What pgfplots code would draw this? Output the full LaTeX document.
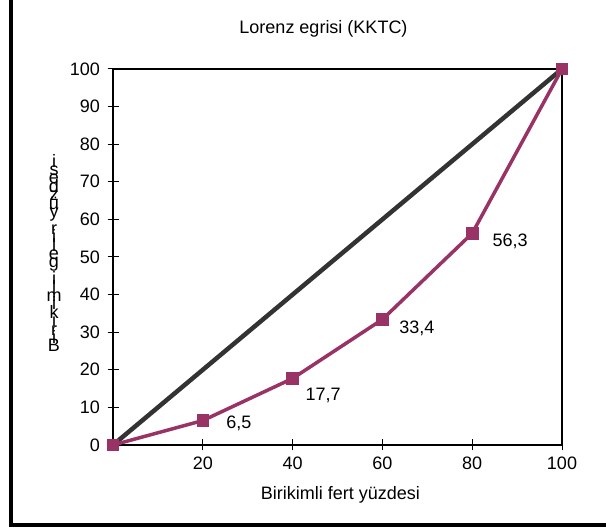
\documentclass[border=0pt]{standalone}
\usepackage{pgfplots}
\pgfplotsset{compat=1.18}
\usepackage{fontspec}
\setmainfont{Liberation Sans}

\definecolor{plum}{RGB}{153,51,102}
\definecolor{darkline}{RGB}{51,51,51}

\newcommand{\chartfont}{\fontsize{18bp}{21bp}\selectfont}

\begin{document}
\begin{tikzpicture}
  \useasboundingbox (0,0) rectangle (606bp,528bp);

  % frame of the chart area (cropped on top and right)
  \draw[line width=4.5bp] (11bp,528bp) -- (11bp,3bp) -- (606bp,3bp);

  \begin{axis}[
    at={(113bp,83bp)}, anchor=south west,
    scale only axis,
    width=449bp, height=376bp,
    xmin=0, xmax=100, ymin=0, ymax=100,
    xtick={20,40,60,80,100},
    ytick={0,10,...,100},
    xtick pos=bottom, ytick pos=left,
    tick align=center,
    major tick length=11bp,
    tick style={black, line width=1bp},
    axis line style={line width=2bp},
    tick label style={font=\chartfont},
    /pgf/number format/assume math mode=true,
    xticklabel style={yshift=-3bp},
    yticklabel style={xshift=-4bp},
    title={Lorenz egrisi (KKTC)},
    title style={font=\chartfont, at={(0.5,1)}, anchor=center, xshift=-14bp, yshift=34bp},
    xlabel={Birikimli fert yüzdesi},
    xlabel style={font=\chartfont, at={(0.5,0)}, anchor=center, xshift=3bp, yshift=-50bp},
    clip=false,
  ]
    % equality line
    \addplot[darkline, line width=4.5bp, line cap=round] coordinates {(0,0) (100,100)};
    % Lorenz curve
    \addplot[plum, line width=3.5bp, mark=square*, mark size=5.8bp,
             mark options={fill=plum, draw=plum, line width=0pt}]
      table {
        x   y
        0   0
        20  6.5
        40  17.7
        60  33.4
        80  56.3
        100 100
      };
    \node[anchor=west, font=\chartfont, xshift=20bp, yshift=-2.5bp] at (axis cs:20,6.5) {6,5};
    \node[anchor=west, font=\chartfont, xshift=9.5bp, yshift=-17.5bp] at (axis cs:40,17.7) {17,7};
    \node[anchor=west, font=\chartfont, xshift=13.5bp, yshift=-8.5bp] at (axis cs:60,33.4) {33,4};
    \node[anchor=west, font=\chartfont, xshift=17bp, yshift=-8.5bp] at (axis cs:80,56.3) {56,3};
  \end{axis}

  % stacked y-axis label
  \foreach \c [count=\i] in {B,i,r,i,k,i,m,l,i,{},g,e,l,i,r,{},y,ü,z,d,e,s,i}
    \node[anchor=base, inner sep=0pt, font=\chartfont] at (54bp,{176bp+(\i-1)*8.4bp}) {\c};
\end{tikzpicture}
\end{document}
